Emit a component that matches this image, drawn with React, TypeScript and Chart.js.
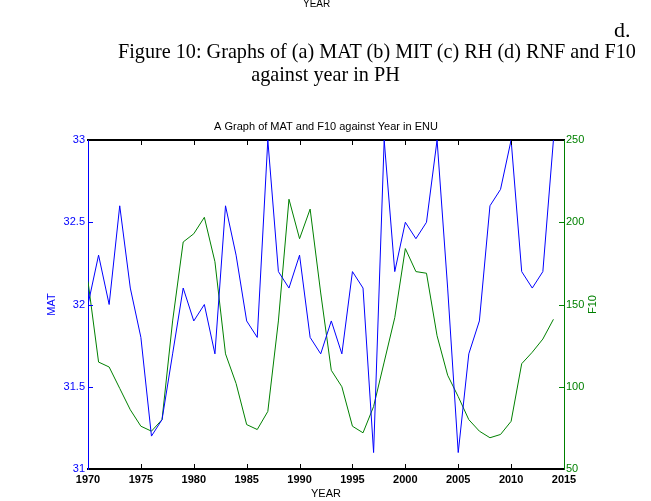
import React, { useEffect, useRef } from "react";
import { Chart, registerables } from "chart.js";

Chart.register(...registerables);

// ---- data ----
const YEARS = [
  1970, 1971, 1972, 1973, 1974, 1975, 1976, 1977, 1978, 1979,
  1980, 1981, 1982, 1983, 1984, 1985, 1986, 1987, 1988, 1989,
  1990, 1991, 1992, 1993, 1994, 1995, 1996, 1997, 1998, 1999,
  2000, 2001, 2002, 2003, 2004, 2005, 2006, 2007, 2008, 2009,
  2010, 2011, 2012, 2013, 2014,
];
const MAT = [
  32.0, 32.3, 32.0, 32.6, 32.1, 31.8, 31.2, 31.3, 31.7, 32.1,
  31.9, 32.0, 31.7, 32.6, 32.3, 31.9, 31.8, 33.0, 32.2, 32.1,
  32.3, 31.8, 31.7, 31.9, 31.7, 32.2, 32.1, 31.1, 33.0, 32.2,
  32.5, 32.4, 32.5, 33.0, 32.1, 31.1, 31.7, 31.9, 32.6, 32.7,
  33.0, 32.2, 32.1, 32.2, 33.0,
];
const F10 = [
  164, 115, 112, 99, 86, 76, 73, 80, 140, 188,
  193, 203, 176, 120, 102, 77, 74, 85, 140, 214,
  190, 208, 157, 110, 100, 76, 72, 88, 115, 142,
  184, 170, 169, 131, 107, 94, 80, 73, 69, 71,
  79, 114, 121, 129, 141,
];

const X_RANGE = [1970, 2015];
const MAT_RANGE = [31, 33];
const F10_RANGE = [50, 250];

const CHART_TITLE = "A Graph of MAT and F10 against Year in ENU";
const X_LABEL = "YEAR";
const MAT_LABEL = "MAT";
const F10_LABEL = "F10";

const CAPTION_TOP = "YEAR";
const CAPTION_LETTER = "d.";
const CAPTION_1 = "Figure 10: Graphs of (a) MAT (b) MIT (c) RH (d) RNF and F10";
const CAPTION_2 = "against year in PH";

const BLUE = "#0000ff";
const GREEN = "#008000";
const FONT = "'Liberation Sans', Arial, Helvetica, sans-serif";

const innerTicks = {
  id: "innerTicks",
  afterDatasetsDraw(chart: any) {
    const { ctx, chartArea: a, scales } = chart;
    const L = 5;
    ctx.save();
    ctx.lineWidth = 1;
    // x ticks (top & bottom)
    ctx.strokeStyle = "#000";
    ctx.beginPath();
    for (const t of scales.x.ticks) {
      if (t.value <= X_RANGE[0] || t.value >= X_RANGE[1]) continue;
      const px = Math.round(scales.x.getPixelForValue(t.value)) + 0.5;
      ctx.moveTo(px, a.bottom);
      ctx.lineTo(px, a.bottom - L);
      ctx.moveTo(px, a.top);
      ctx.lineTo(px, a.top + L);
    }
    ctx.stroke();
    // left ticks
    ctx.strokeStyle = BLUE;
    ctx.beginPath();
    for (const t of scales.y.ticks) {
      if (t.value <= MAT_RANGE[0] || t.value >= MAT_RANGE[1]) continue;
      const py = Math.round(scales.y.getPixelForValue(t.value)) + 0.5;
      ctx.moveTo(a.left, py);
      ctx.lineTo(a.left + L, py);
    }
    ctx.stroke();
    // right ticks
    ctx.strokeStyle = GREEN;
    ctx.beginPath();
    for (const t of scales.y1.ticks) {
      if (t.value <= F10_RANGE[0] || t.value >= F10_RANGE[1]) continue;
      const py = Math.round(scales.y1.getPixelForValue(t.value)) + 0.5;
      ctx.moveTo(a.right, py);
      ctx.lineTo(a.right - L, py);
    }
    ctx.stroke();
    ctx.restore();
  },
  afterDraw(chart: any) {
    const { ctx, chartArea: a } = chart;
    ctx.save();
    ctx.translate(a.right + 29, (a.top + a.bottom) / 2);
    ctx.rotate(-Math.PI / 2);
    ctx.fillStyle = GREEN;
    ctx.font = `11px ${FONT}`;
    ctx.textAlign = "center";
    ctx.textBaseline = "middle";
    ctx.fillText(F10_LABEL, 0, 0);
    ctx.restore();
  },
};

export default function App() {
  const ref = useRef<HTMLCanvasElement>(null);

  useEffect(() => {
    if (!ref.current) return;
    const chart = new Chart(ref.current, {
      type: "line",
      data: {
        datasets: [
          {
            label: MAT_LABEL,
            data: YEARS.map((y, i) => ({ x: y, y: MAT[i] })),
            borderColor: BLUE,
            borderWidth: 1,
            pointRadius: 0,
            tension: 0,
            yAxisID: "y",
            xAxisID: "x",
          },
          {
            label: F10_LABEL,
            data: YEARS.map((y, i) => ({ x: y, y: F10[i] })),
            borderColor: GREEN,
            borderWidth: 1,
            pointRadius: 0,
            tension: 0,
            yAxisID: "y1",
            xAxisID: "x",
          },
        ],
      },
      options: {
        responsive: false,
        maintainAspectRatio: false,
        devicePixelRatio: 1,
        animation: false,
        events: [],
        layout: { padding: 0 },
        plugins: {
          legend: { display: false },
          tooltip: { enabled: false },
          title: { display: false },
        },
        scales: {
          x: {
            type: "linear",
            position: "bottom",
            min: X_RANGE[0],
            max: X_RANGE[1],
            afterFit: (s: any) => { s.height = 32; },
            grid: { display: false, drawTicks: false },
            border: { display: true, color: "#000", width: 2 },
            ticks: {
              stepSize: 5,
              padding: 4,
              color: "#000",
              font: { family: FONT, size: 11, weight: "bold" },
              maxRotation: 0,
              callback: (v: any) => String(v),
            },
            title: {
              display: true,
              text: X_LABEL,
              color: "#000",
              font: { family: FONT, size: 11 },
              padding: { top: 0, bottom: 0 },
            },
          },
          x2: {
            type: "linear",
            position: "top",
            min: X_RANGE[0],
            max: X_RANGE[1],
            afterFit: (s: any) => { s.height = 140; },
            grid: { display: false, drawTicks: false },
            border: { display: true, color: "#000", width: 2 },
            ticks: { display: false, stepSize: 5 },
            title: {
              display: true,
              text: CHART_TITLE,
              color: "#000",
              font: { family: FONT, size: 11 },
              padding: { top: 120, bottom: 0 },
            },
          },
          y: {
            type: "linear",
            position: "left",
            min: MAT_RANGE[0],
            max: MAT_RANGE[1],
            afterFit: (s: any) => { s.width = 88; },
            grid: { display: false, drawTicks: false },
            border: { display: true, color: BLUE, width: 1 },
            ticks: {
              stepSize: 0.5,
              padding: 3,
              color: BLUE,
              font: { family: FONT, size: 11 },
              callback: (v: any) => String(v),
            },
            title: {
              display: true,
              text: MAT_LABEL,
              color: BLUE,
              font: { family: FONT, size: 11 },
              padding: { top: 45, bottom: 0 },
            },
          },
          y1: {
            type: "linear",
            position: "right",
            min: F10_RANGE[0],
            max: F10_RANGE[1],
            afterFit: (s: any) => { s.width = 87; },
            grid: { display: false, drawTicks: false },
            border: { display: true, color: GREEN, width: 1 },
            ticks: {
              stepSize: 50,
              padding: 2,
              color: GREEN,
              font: { family: FONT, size: 11 },
              callback: (v: any) => String(v),
            },
          },
        },
      },
      plugins: [innerTicks],
    } as any);
    return () => chart.destroy();
  }, []);

  const serif = "'Liberation Serif', 'Times New Roman', serif";
  return (
    <div style={{ position: "absolute", left: 0, top: 0, width: 651, height: 501, background: "#fff", overflow: "hidden" }}>
      <canvas ref={ref} width={651} height={501} style={{ position: "absolute", left: 0, top: 0, width: 651, height: 501 }} />
      <div style={{ position: "absolute", left: 303, top: -1, font: `10px ${FONT}`, lineHeight: "10px", color: "#000", whiteSpace: "nowrap" }}>{CAPTION_TOP}</div>
      <div style={{ position: "absolute", left: 614, top: 19, font: `22px ${serif}`, lineHeight: "22px", color: "#000", whiteSpace: "nowrap" }}>{CAPTION_LETTER}</div>
      <div style={{ position: "absolute", left: 118, top: 40, font: `20.2px ${serif}`, lineHeight: "23px", color: "#000", whiteSpace: "nowrap" }}>{CAPTION_1}</div>
      <div style={{ position: "absolute", left: 0, width: 651, top: 63, textAlign: "center", font: `20.2px ${serif}`, lineHeight: "23px", color: "#000", whiteSpace: "nowrap" }}>{CAPTION_2}</div>
    </div>
  );
}
